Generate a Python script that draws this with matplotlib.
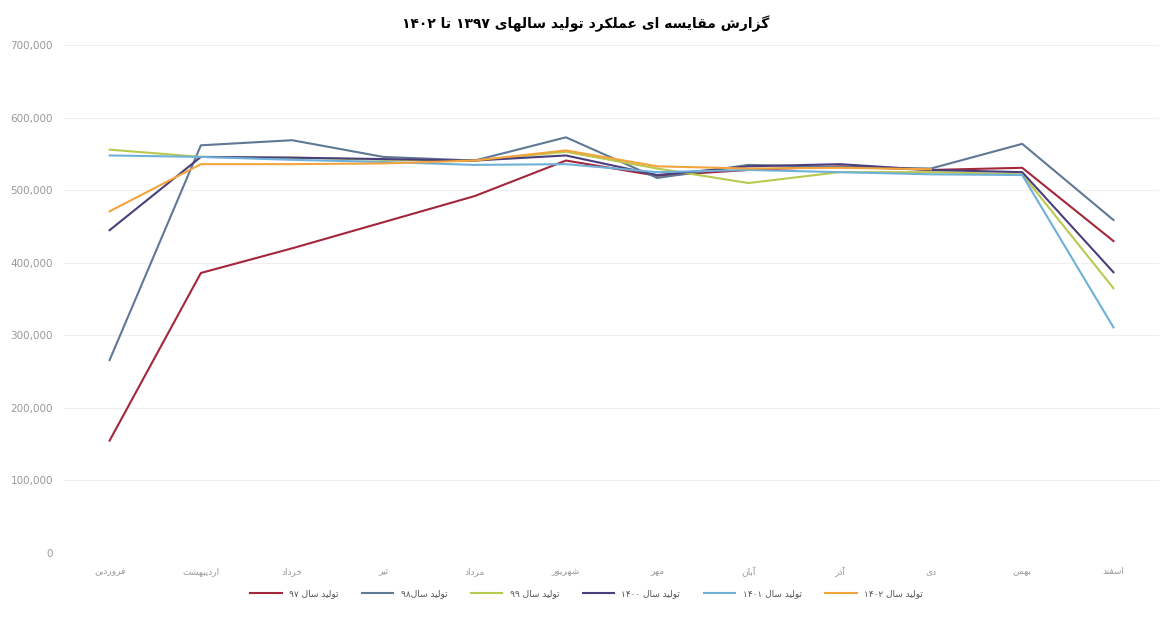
import unicodedata
import numpy as np
import matplotlib
matplotlib.use("Agg")
import matplotlib.pyplot as plt
from matplotlib.ticker import FuncFormatter

# Data
months = ["فروردین", "اردیبهشت", "خرداد", "تیر", "مرداد", "شهریور",
          "مهر", "آبان", "آذر", "دی", "بهمن", "اسفند"]

prod_97 = [155000, 386000, 420000, 456000, 492000, 541000,
           520000, 528000, 533000, 528000, 531000, 430000]
prod_98 = [266000, 562000, 569000, 546000, 541000, 573000,
           517000, 535000, 532000, 530000, 564000, 459000]
prod_99 = [556000, 546000, 545000, 542000, 541000, 553000,
           530000, 510000, 525000, 525000, 522000, 365000]
prod_1400 = [445000, 546000, 545000, 543000, 541000, 548000,
             521000, 533000, 536000, 528000, 525000, 387000]
prod_1401 = [548000, 546000, 542000, 539000, 535000, 536000,
             525000, 528000, 525000, 522000, 521000, 311000]
prod_1402 = [471000, 536000, 536000, 537000, 541000, 555000,
             533000, 530000, 531000, 529000, np.nan, np.nan]

series_labels = ["تولید سال ۹۷", "تولید سال۹۸", "تولید سال ۹۹",
                 "تولید سال ۱۴۰۰", "تولید سال ۱۴۰۱", "تولید سال ۱۴۰۲"]
title = "گزارش مقایسه ای عملکرد تولید سالهای ۱۳۹۷ تا ۱۴۰۲"

# matplotlib has no Arabic shaping / bidi, so do a small one by hand
RIGHT_ONLY = set("اآأإدذرزژوؤة")


def is_letter(ch):
    return "\u0600" <= ch <= "\u06ff" and unicodedata.category(ch) == "Lo"


def form(ch, kind):
    try:
        return unicodedata.lookup(unicodedata.name(ch) + " " + kind + " FORM")
    except KeyError:
        return ch


def fa(text):
    out = []
    for i, ch in enumerate(text):
        if not is_letter(ch):
            out.append(ch)
            continue
        prev = text[i - 1] if i > 0 else ""
        nxt = text[i + 1] if i + 1 < len(text) else ""
        jp = prev != "" and is_letter(prev) and prev not in RIGHT_ONLY
        jn = nxt != "" and is_letter(nxt) and ch not in RIGHT_ONLY
        if jp and jn:
            out.append(form(ch, "MEDIAL"))
        elif jp:
            out.append(form(ch, "FINAL"))
        elif jn:
            out.append(form(ch, "INITIAL"))
        else:
            out.append(form(ch, "ISOLATED"))
    shaped = "".join(out)
    # split into digit / non-digit runs, lay out right to left
    runs, cur, cur_digit = [], "", None
    for ch in shaped:
        d = ch.isdigit()
        if cur and d != cur_digit:
            runs.append((cur, cur_digit))
            cur = ""
        cur += ch
        cur_digit = d
    if cur:
        runs.append((cur, cur_digit))
    return "".join(r if d else r[::-1] for r, d in reversed(runs))


plt.rcParams["font.family"] = ["DejaVu Sans"]

fig = plt.figure(figsize=(11.72, 6.19), dpi=100)
ax = fig.add_axes([0.0546, 0.1066, 0.9344, 0.8204])

x = np.arange(len(months))
data = [prod_97, prod_98, prod_99, prod_1400, prod_1401, prod_1402]
colors = ["#a3263a", "#5f7896", "#b9c94e", "#4a3f7c", "#6fb0d8", "#f3a43c"]

for values, label, color in zip(data, series_labels, colors):
    ax.plot(x, values, color=color, linewidth=1.5, label=fa(label))

ax.set_xlim(-0.5, 11.5)
ax.set_ylim(0, 700000)
ax.set_yticks(np.arange(0, 700001, 100000))
ax.yaxis.set_major_formatter(FuncFormatter(lambda v, p: f"{int(v):,}"))
ax.set_xticks(x)
ax.set_xticklabels([fa(m) for m in months])
ax.tick_params(axis="y", length=0, labelsize=7.5, colors="#999999", pad=8)
ax.tick_params(axis="x", length=0, labelsize=6.5, colors="#999999", pad=10)
ax.grid(axis="y", color="#efefef", linewidth=0.8)
ax.set_axisbelow(True)
for s in ax.spines.values():
    s.set_visible(False)

fig.suptitle(fa(title), y=0.975, fontsize=10, fontweight="bold", x=0.5)

ax.legend(loc="upper center", bbox_to_anchor=(0.477, -0.055), ncol=6,
          frameon=False, fontsize=6.5, handlelength=3.5, columnspacing=2.6,
          labelcolor="#555555")

plt.savefig("out.png", dpi=100)
